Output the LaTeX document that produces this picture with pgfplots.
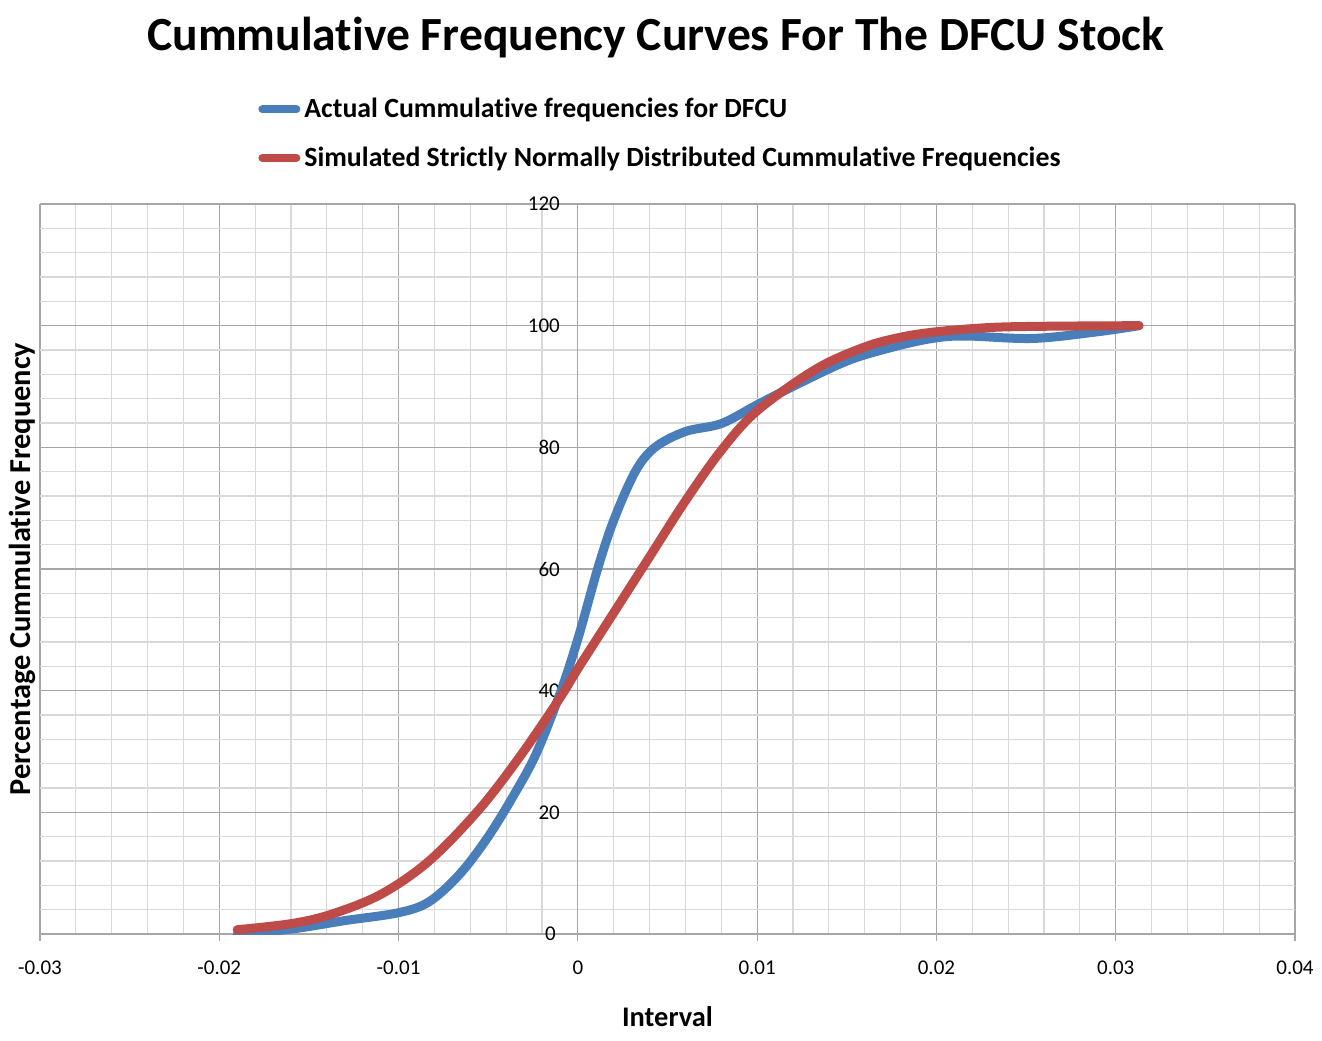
\documentclass[border=0pt]{standalone}
\usepackage{fontspec}
\setmainfont[Ligatures=CommonOff]{Carlito}
\usepackage{pgfplots}
\pgfplotsset{compat=1.18}
\definecolor{exblue}{HTML}{4A7EBB}
\definecolor{exred}{HTML}{BE4B48}
\definecolor{majgrid}{HTML}{A6A6A6}
\definecolor{mingrid}{HTML}{D9D9D9}
\begin{document}
\begin{tikzpicture}
\path[use as bounding box] (0,0) rectangle (661pt,520pt);
\begin{axis}[
  at={(20pt,53pt)}, anchor=south west,
  scale only axis, width=627.5pt, height=365pt,
  xmin=-0.03, xmax=0.04, ymin=0, ymax=120,
  axis x line=bottom, axis y line=center,
  axis line style={majgrid, line width=0.6pt, -},
  xtick={-0.03,-0.02,-0.01,0,0.01,0.02,0.03,0.04},
  xticklabels={-0.03,-0.02,-0.01,0,0.01,0.02,0.03,0.04},
  ytick={0,20,40,60,80,100,120},
  extra y ticks={0}, extra y tick labels={0},
  extra y tick style={grid=none, yticklabel style={xshift=-2pt}},
  scaled x ticks=false,
  minor x tick num=4, minor y tick num=4,
  grid=both,
  major grid style={majgrid, line width=0.6pt},
  minor grid style={mingrid, line width=0.6pt},
  major tick length=3.5pt, minor tick length=0pt,
  tick align=outside,
  tick style={majgrid, line width=0.6pt},
  /pgf/number format/assume math mode=true,
  tick label style={font=\fontsize{10.5}{12}\selectfont},
  xticklabel style={yshift=-6.5pt},
  yticklabel style={xshift=-2pt},
  xlabel={\textbf{Interval}},
  ylabel={\textbf{Percentage Cummulative Frequency}},
  xlabel style={at={(axis description cs:0.5,-0.1137)}, anchor=center, font=\fontsize{14.2}{16}\selectfont},
  ylabel style={at={(axis description cs:-0.0143,0.5)}, anchor=center, rotate=90, font=\fontsize{15.2}{17}\selectfont},
  every axis title shift=0pt,
  title={\textbf{Cummulative Frequency Curves For The DFCU Stock}},
  title style={at={(axis description cs:0.4908,1.2274)}, anchor=center, font=\fontsize{23.8}{26}\selectfont},
  legend style={at={(axis description cs:0.1737,1.151)}, anchor=north west, draw=none, fill=none,
    font=\fontsize{13.9}{16}\selectfont\bfseries, row sep=9pt, inner sep=0pt},
  legend cell align=left,
  legend image code/.code={\draw[#1, line width=4pt, line cap=round] (0pt,0pt) -- (17pt,0pt);},
]
\addplot[exblue, line width=4.5pt, line cap=round, smooth, tension=0.55] coordinates {
(-0.0190,0.0) (-0.0160,0.8) (-0.0130,2.2) (-0.0100,3.5) (-0.0083,5.3) (-0.0066,9.8)
(-0.0050,16) (-0.0035,23.2) (-0.0023,29.8) (-0.0010,39.5) (0.0000,48.5) (0.0011,60)
(0.0020,68) (0.0032,76) (0.0043,80) (0.0060,82.6) (0.0080,83.9) (0.0100,87)
(0.0124,90.6) (0.0152,94.4) (0.0180,96.8) (0.0200,98.0) (0.0217,98.3) (0.0254,97.9)
(0.0290,99.0) (0.0313,100)
};
\addlegendentry{Actual Cummulative frequencies for DFCU}
\addplot[exred, line width=4.5pt, line cap=round, smooth, tension=0.55] coordinates {
(-0.0190,0.7) (-0.0160,1.7) (-0.0138,3.2) (-0.0110,6.5) (-0.0083,12.0) (-0.0055,20.5)
(-0.0032,29.3) (-0.0010,38.8) (0.0000,43.6) (0.0020,52.8) (0.0040,62.0) (0.0060,71.2)
(0.0080,79.5) (0.0100,86) (0.0133,92.9) (0.0160,96.5) (0.0180,98.1) (0.0200,99.0)
(0.0230,99.7) (0.0260,99.9) (0.0313,100)
};
\addlegendentry{Simulated Strictly Normally Distributed Cummulative Frequencies}
\end{axis}
\end{tikzpicture}
\end{document}
